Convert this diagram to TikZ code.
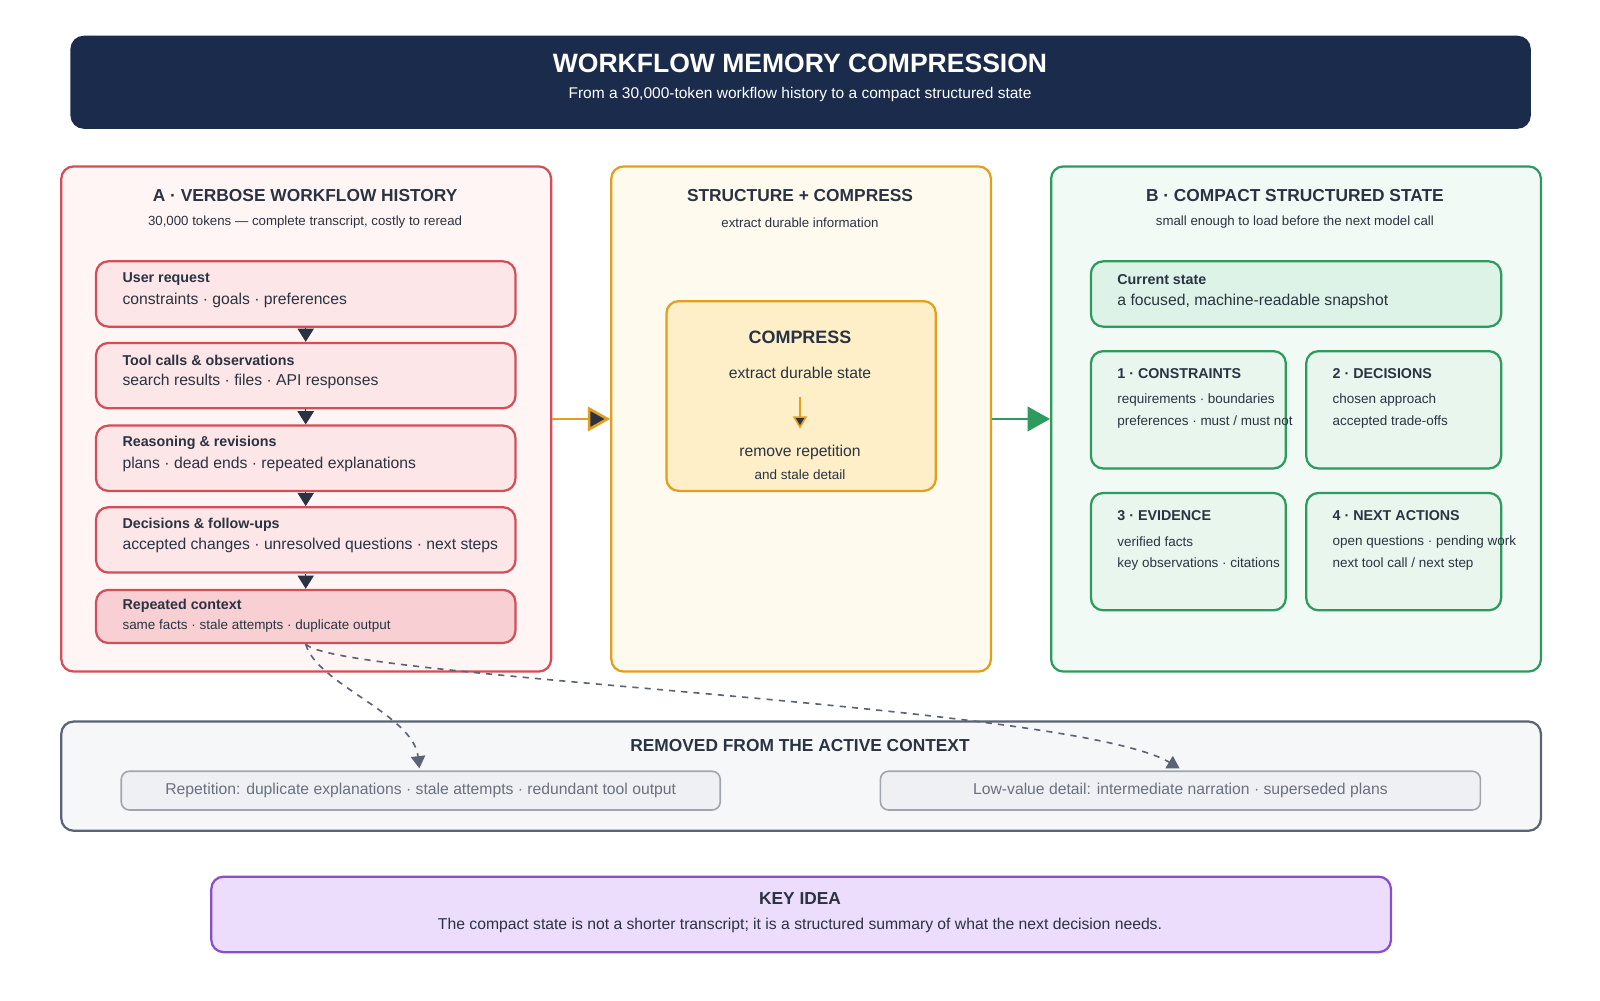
\documentclass[tikz,border=0pt]{standalone}
\usepackage{fontspec}
\setmainfont{Liberation Sans}
\usetikzlibrary{arrows.meta}
\definecolor{navy}{HTML}{1B2B4B}
\definecolor{ink}{HTML}{2A3342}
\definecolor{redln}{HTML}{D24E58}
\definecolor{redbg}{HTML}{FFF5F5}
\definecolor{reditem}{HTML}{FCE6E7}
\definecolor{redhot}{HTML}{F8D0D3}
\definecolor{ambln}{HTML}{E29E1E}
\definecolor{ambbg}{HTML}{FFFAEE}
\definecolor{ambin}{HTML}{FEEFC8}
\definecolor{grnln}{HTML}{2E9A5E}
\definecolor{grnbg}{HTML}{F2FAF5}
\definecolor{grnin}{HTML}{E8F6EE}
\definecolor{grnhi}{HTML}{DDF3E7}
\definecolor{grayln}{HTML}{5A6475}
\definecolor{graybg}{HTML}{F6F7F9}
\definecolor{chipbg}{HTML}{EEF0F3}
\definecolor{chipln}{HTML}{A0A6AF}
\definecolor{chiptx}{HTML}{6A717D}
\definecolor{purln}{HTML}{8A4FC8}
\definecolor{purbg}{HTML}{EBDDFB}

\tikzset{
  box/.style={draw, rounded corners=6pt, line width=1.1pt, anchor=north west, inner sep=0pt},
  ttl/.style={font=\fontsize{8.5}{10}\selectfont\bfseries, text=ink},
  sub/.style={font=\fontsize{6.5}{8}\selectfont, text=ink},
  lbl/.style={anchor=west, font=\fontsize{7}{8}\selectfont\bfseries, text=ink},
  txt/.style={anchor=west, font=\fontsize{7.7}{9}\selectfont, text=ink},
  sml/.style={anchor=west, font=\fontsize{6.6}{8}\selectfont, text=ink},
  seq/.style={draw=ink, line width=0.6pt, -{Triangle[length=6.5pt,width=8pt]}, ink},
  drop/.style={draw=grayln, dashed, line width=0.8pt, -{Triangle[length=6pt,width=7pt]}}
}

\begin{document}
\begin{tikzpicture}[x=0.5pt,y=-0.5pt]
\useasboundingbox (0,0) rectangle (1568,980);

% header
\node[box, draw=navy, fill=navy, minimum width=714.5pt, minimum height=44.5pt] (head) at (69,35) {};
\node[font=\fontsize{13}{15}\selectfont\bfseries, text=white] (headt) at (784,62) {WORKFLOW MEMORY COMPRESSION};
\node[font=\fontsize{7.6}{9}\selectfont, text=white] (heads) at (784,93) {From a 30,000-token workflow history to a compact structured state};

% panel A
\node[box, draw=redln, fill=redbg, minimum width=240pt, minimum height=247.5pt] (A) at (59,162) {};
\node[ttl] at (299,192) {A · VERBOSE WORKFLOW HISTORY};
\node[sub] at (299,218) {30,000 tokens — complete transcript, costly to reread};

\node[box, draw=redln, fill=reditem, minimum width=205.5pt, minimum height=32pt] (req) at (93,255) {};
\node[lbl] at (113,273) {User request};
\node[txt] at (113,294) {constraints · goals · preferences};
\node[box, draw=redln, fill=reditem, minimum width=205.5pt, minimum height=32pt] (tool) at (93,335) {};
\node[lbl] at (113,353) {Tool calls \& observations};
\node[txt] at (113,374) {search results · files · API responses};
\node[box, draw=redln, fill=reditem, minimum width=205.5pt, minimum height=32pt] (reas) at (93,416) {};
\node[lbl] at (113,434) {Reasoning \& revisions};
\node[txt] at (113,455) {plans · dead ends · repeated explanations};
\node[box, draw=redln, fill=reditem, minimum width=205.5pt, minimum height=32pt] (dec) at (93,496) {};
\node[lbl] at (113,514) {Decisions \& follow-ups};
\node[txt] at (113,535) {accepted changes · unresolved questions · next steps};
\node[box, draw=redln, fill=redhot, minimum width=205.5pt, minimum height=26pt] (rep) at (93,577) {};
\node[lbl] at (113,594) {Repeated context};
\node[sml] at (113,613) {same facts · stale attempts · duplicate output};

\draw[seq] (req.south) -- (tool.north);
\draw[seq] (tool.south) -- (reas.north);
\draw[seq] (reas.south) -- (dec.north);
\draw[seq] (dec.south) -- (rep.north);

% middle panel
\node[box, draw=ambln, fill=ambbg, minimum width=186pt, minimum height=247.5pt] (M) at (598,162) {};
\node[ttl] at (784,192) {STRUCTURE + COMPRESS};
\node[sub] at (784,218) {extract durable information};
\node[box, draw=ambln, fill=ambin, minimum width=132pt, minimum height=93pt] (core) at (652,294) {};
\node[font=\fontsize{8.8}{10}\selectfont\bfseries, text=ink] at (784,331) {COMPRESS};
\node[font=\fontsize{7.7}{9}\selectfont, text=ink] (ex) at (784,365) {extract durable state};
\coordinate (exb) at (784,389);
\coordinate (rmt) at (784,420);
\draw[draw=ambln, line width=0.8pt, -{Triangle[length=6pt,width=7pt,fill=ink]}] (exb) -- (rmt);
\node[font=\fontsize{7.7}{9}\selectfont, text=ink] at (784,443) {remove repetition};
\node[font=\fontsize{6.6}{8}\selectfont, text=ink] at (784,465) {and stale detail};

% panel B
\node[box, draw=grnln, fill=grnbg, minimum width=240pt, minimum height=247.5pt] (B) at (1029,162) {};
\node[ttl] at (1269,192) {B · COMPACT STRUCTURED STATE};
\node[sub] at (1269,218) {small enough to load before the next model call};
\node[box, draw=grnln, fill=grnhi, minimum width=201pt, minimum height=32pt] (cur) at (1068,255) {};
\node[lbl] at (1088,274) {Current state};
\node[txt] at (1088,295) {a focused, machine-readable snapshot};

\node[box, draw=grnln, fill=grnin, minimum width=95.5pt, minimum height=57.5pt] (c1) at (1068,343) {};
\node[lbl] at (1088,366) {1 · CONSTRAINTS};
\node[sml] at (1088,392) {requirements · boundaries};
\node[sml] at (1088,414) {preferences · must / must not};
\node[box, draw=grnln, fill=grnin, minimum width=95.5pt, minimum height=57.5pt] (c2) at (1279,343) {};
\node[lbl] at (1299,366) {2 · DECISIONS};
\node[sml] at (1299,392) {chosen approach};
\node[sml] at (1299,414) {accepted trade-offs};
\node[box, draw=grnln, fill=grnin, minimum width=95.5pt, minimum height=57.5pt] (c3) at (1068,482) {};
\node[lbl] at (1088,505) {3 · EVIDENCE};
\node[sml] at (1088,531) {verified facts};
\node[sml] at (1088,553) {key observations · citations};
\node[box, draw=grnln, fill=grnin, minimum width=95.5pt, minimum height=57.5pt] (c4) at (1279,482) {};
\node[lbl] at (1299,505) {4 · NEXT ACTIONS};
\node[sml] at (1299,531) {open questions · pending work};
\node[sml] at (1299,553) {next tool call / next step};

% flow between panels
\draw[draw=ambln, line width=1.3pt, -{Triangle[length=11pt,width=12pt,fill=ink]}] (A.east) -- (M.west);
\draw[draw=grnln, line width=1.3pt, -{Triangle[length=11pt,width=12pt]}] (M.east) -- (B.west);

% removed
\node[box, draw=grayln, fill=graybg, minimum width=725pt, minimum height=53.5pt] (R) at (59,706) {};
\node[ttl] at (784,731) {REMOVED FROM THE ACTIVE CONTEXT};
\node[box, draw=chipln, fill=chipbg, line width=0.8pt, rounded corners=4pt, minimum width=293.5pt, minimum height=19pt] (r1) at (118,755) {};
\node[font=\fontsize{7.7}{9}\selectfont, text=chiptx] at (r1.center) {Repetition: duplicate explanations · stale attempts · redundant tool output};
\node[box, draw=chipln, fill=chipbg, line width=0.8pt, rounded corners=4pt, minimum width=294pt, minimum height=19pt] (r2) at (862,755) {};
\node[font=\fontsize{7.7}{9}\selectfont, text=chiptx] at (r2.center) {Low-value detail: intermediate narration · superseded plans};
\coordinate (d1) at (411,753);
\coordinate (d2) at (1156,753);
\draw[drop] (rep.south) .. controls (310,670) and (405,700) .. (d1);
\draw[drop] (rep.south) .. controls (330,665) and (1050,690) .. (d2);

% key idea
\node[box, draw=purln, fill=purbg, minimum width=578pt, minimum height=37pt] (K) at (206,858) {};
\node[ttl] at (784,881) {KEY IDEA};
\node[font=\fontsize{7.7}{9}\selectfont, text=ink] at (784,907) {The compact state is not a shorter transcript; it is a structured summary of what the next decision needs.};
\end{tikzpicture}
\end{document}
